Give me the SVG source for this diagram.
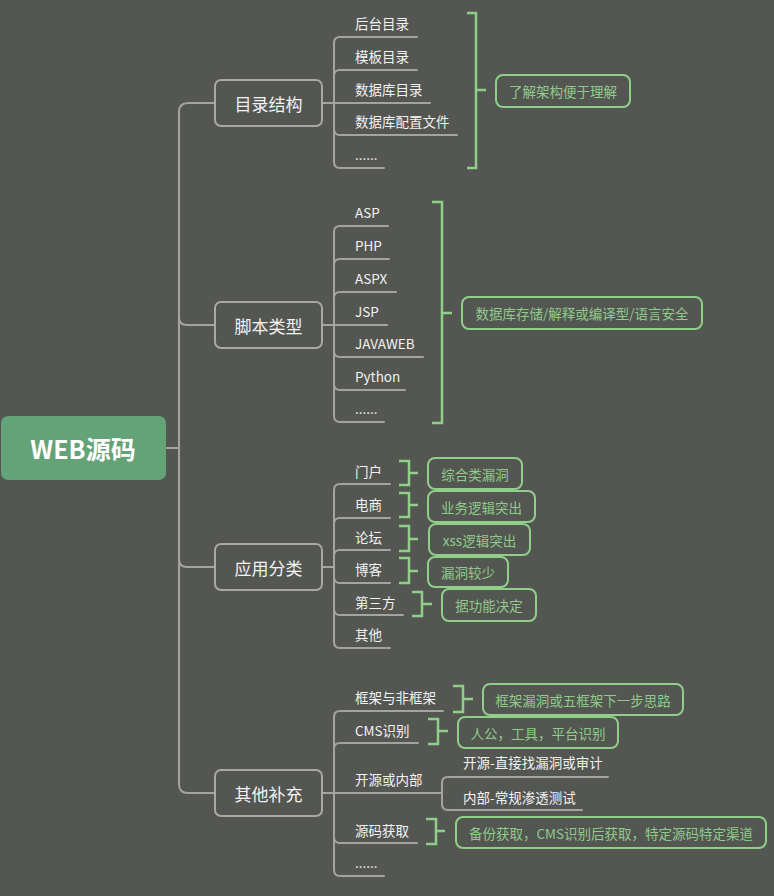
<svg xmlns="http://www.w3.org/2000/svg" width="774" height="896" viewBox="0 0 774 896">
<style>
.ln{fill:none;stroke:#a3a3a1;stroke-width:2;stroke-linecap:round}
.br{fill:none;stroke:#8fcf89;stroke-width:2.5}
.gb{fill:none;stroke:#8fcf89;stroke-width:2}
.node{fill:#545652;stroke:#a8a8a6;stroke-width:2}
.t{font-family:"Noto Sans CJK SC","Noto Sans",sans-serif;fill:#f2f2f2}
.c{font-size:13.5px}
.n{font-size:17px;text-anchor:middle;dominant-baseline:central}
.g{font-family:"Noto Sans CJK SC","Noto Sans",sans-serif;font-size:13.5px;fill:#8fcb8a;text-anchor:middle;dominant-baseline:central}
</style>
<rect width="774" height="896" fill="#545652"/>
<g id="connectors">
<path class="ln" d="M166,448 H179 M188,103 Q179,103 179,112 V784 Q179,793 188,793 H215 M188,103 H215 M179,317 Q179,325 187,325 H215 M179,559 Q179,567 187,567 H215"/>
<!-- section 1 -->
<path class="ln" d="M334,43 V162 M334,43 Q334,37 340,37 H417 M334,76 Q334,70 340,70 H417 M322,103 H430 M334,129 Q334,135 340,135 H457 M334,162 Q334,168 340,168 H384"/>
<!-- section 2 -->
<path class="ln" d="M334,232 V416 M334,232 Q334,226 340,226 H388 M334,265 Q334,259 340,259 H389 M334,298 Q334,292 340,292 H396 M322,325 H387 M334,351 Q334,357 340,357 H423 M334,384 Q334,390 340,390 H405 M334,416 Q334,422 340,422 H384"/>
<!-- section 3 -->
<path class="ln" d="M334,490 V642 M322,567 H334 M334,490 Q334,484 340,484 H390 M334,524 Q334,518 340,518 H390 M334,556 Q334,550 340,550 H390 M334,577 Q334,583 340,583 H390 M334,609 Q334,615 340,615 H403 M334,642 Q334,648 340,648 H390"/>
<!-- section 4 -->
<path class="ln" d="M334,717 V870 M334,717 Q334,711 340,711 H443 M334,749 Q334,743 340,743 H418 M322,793 H442 M334,837 Q334,843 340,843 H417 M334,870 Q334,876 340,876 H384 M442,783 V804 M442,783 Q442,777 448,777 H608 M442,804 Q442,810 448,810 H582"/>
<!-- green brackets -->
<path class="br" d="M467,13 H476 V168 H467 M476,90 H486"/>
<path class="br" d="M432,202 H442 V423 H432 M442,313 H452"/>
<path class="br" d="M399,461 H409 V485 H399 M409,473 H418"/>
<path class="br" d="M399,493 H409 V517 H399 M409,505 H418"/>
<path class="br" d="M399,526 H409 V551 H399 M409,539 H418"/>
<path class="br" d="M399,558 H409 V583 H399 M409,571 H418"/>
<path class="br" d="M412,592 H422 V616 H412 M422,604 H432"/>
<path class="br" d="M453,686 H463 V712 H453 M463,699 H473"/>
<path class="br" d="M428,719 H438 V744 H428 M438,731 H448"/>
<path class="br" d="M426,819 H436 V844 H426 M436,831 H445"/>
</g>
<g id="root">
<rect x="1" y="416" width="165" height="64" rx="7" fill="#64a278"/>
<text x="83" y="448" font-family="Noto Sans CJK SC, Noto Sans, sans-serif" font-size="25" font-weight="bold" fill="#ffffff" text-anchor="middle" dominant-baseline="central">WEB源码</text>
</g>
<g id="n1">
<rect class="node" x="215" y="80" width="107" height="46" rx="6"/>
<text class="t n" x="268.5" y="103">目录结构</text>
</g>
<g id="n2">
<rect class="node" x="215" y="302" width="107" height="46" rx="6"/>
<text class="t n" x="268.5" y="325">脚本类型</text>
</g>
<g id="n3">
<rect class="node" x="215" y="544" width="107" height="46" rx="6"/>
<text class="t n" x="268.5" y="567">应用分类</text>
</g>
<g id="n4">
<rect class="node" x="215" y="770" width="107" height="46" rx="6"/>
<text class="t n" x="268.5" y="793">其他补充</text>
</g>
<g id="leaves1">
<text class="t c" x="355" y="29">后台目录</text>
<text class="t c" x="355" y="62">模板目录</text>
<text class="t c" x="355" y="95">数据库目录</text>
<text class="t c" x="355" y="127">数据库配置文件</text>
<text class="t c" x="355" y="160">......</text>
</g>
<g id="leaves2">
<text class="t c" x="355" y="218">ASP</text>
<text class="t c" x="355" y="251">PHP</text>
<text class="t c" x="355" y="284">ASPX</text>
<text class="t c" x="355" y="317">JSP</text>
<text class="t c" x="355" y="349">JAVAWEB</text>
<text class="t c" x="355" y="382">Python</text>
<text class="t c" x="355" y="414">......</text>
</g>
<g id="leaves3">
<text class="t c" x="355" y="477">门户</text>
<text class="t c" x="355" y="510">电商</text>
<text class="t c" x="355" y="543">论坛</text>
<text class="t c" x="355" y="575">博客</text>
<text class="t c" x="355" y="608">第三方</text>
<text class="t c" x="355" y="640">其他</text>
</g>
<g id="leaves4">
<text class="t c" x="355" y="703">框架与非框架</text>
<text class="t c" x="355" y="736">CMS识别</text>
<text class="t c" x="355" y="785">开源或内部</text>
<text class="t c" x="463" y="768">开源-直接找漏洞或审计</text>
<text class="t c" x="463" y="803">内部-常规渗透测试</text>
<text class="t c" x="355" y="836">源码获取</text>
<text class="t c" x="355" y="868">......</text>
</g>
<g id="notes">
<rect class="gb" x="496" y="75" width="134" height="32" rx="7"/>
<text class="g" x="563" y="91">了解架构便于理解</text>
<rect class="gb" x="462" y="297" width="240" height="32" rx="7"/>
<text class="g" x="582" y="313">数据库存储/解释或编译型/语言安全</text>
<rect class="gb" x="428" y="458" width="94" height="31" rx="7"/>
<text class="g" x="475" y="473.5">综合类漏洞</text>
<rect class="gb" x="428" y="491" width="107" height="31" rx="7"/>
<text class="g" x="481.5" y="506.5">业务逻辑突出</text>
<rect class="gb" x="429" y="524" width="101" height="31" rx="7"/>
<text class="g" x="479.5" y="539.5">xss逻辑突出</text>
<rect class="gb" x="428" y="557" width="80" height="30" rx="7"/>
<text class="g" x="468" y="572">漏洞较少</text>
<rect class="gb" x="442" y="589" width="94" height="32" rx="7"/>
<text class="g" x="489" y="605">据功能决定</text>
<rect class="gb" x="483" y="684" width="200" height="31" rx="7"/>
<text class="g" x="583" y="699.5">框架漏洞或五框架下一步思路</text>
<rect class="gb" x="458" y="717" width="160" height="31" rx="7"/>
<text class="g" x="538" y="732.5">人公，工具，平台识别</text>
<rect class="gb" x="456" y="817" width="310" height="31" rx="7"/>
<text class="g" x="611" y="832.5">备份获取，CMS识别后获取，特定源码特定渠道</text>
</g>
</svg>
